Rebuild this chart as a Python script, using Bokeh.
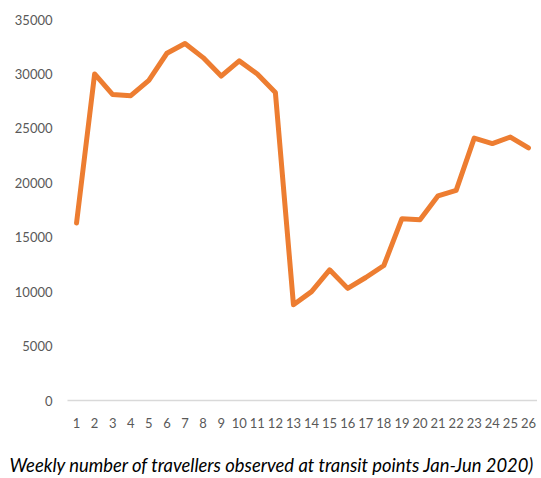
from bokeh.plotting import figure
from bokeh.models import FixedTicker, Range1d, Title
from bokeh.embed import file_html
from bokeh.resources import INLINE

weeks = list(range(1, 27))
travellers = [16300, 30000, 28100, 28000, 29400, 31900, 32800, 31500, 29800, 31200,
              30000, 28300, 8800, 10000, 12000, 10300, 11300, 12400, 16700, 16600,
              18800, 19300, 24100, 23600, 24200, 23200]
y_ticks = [0, 5000, 10000, 15000, 20000, 25000, 30000, 35000]
caption = "Weekly number of travellers observed at transit points Jan-Jun 2020)"

FONT = "Lato"

p = figure(frame_width=470, frame_height=381, output_backend="svg", toolbar_location=None,
           x_range=Range1d(0.5, 26.5), y_range=Range1d(0, 35000),
           min_border_left=67, min_border_right=0, min_border_top=19,
           min_border_bottom=2)
p.outline_line_color = None
p.xgrid.visible = False
p.ygrid.visible = False

p.line(weeks, travellers, line_color="#ED7D31", line_width=5, line_join="round", line_cap="round")

p.xaxis.ticker = FixedTicker(ticks=weeks)
p.xaxis.axis_line_color = "#d9d9d9"
p.xaxis.axis_line_width = 1.5
p.xaxis.major_tick_line_color = None
p.xaxis.minor_tick_line_color = None
p.xaxis.major_label_text_color = "#595959"
p.xaxis.major_label_text_font = FONT
p.xaxis.major_label_text_font_size = "13px"
p.xaxis.major_label_standoff = 11

p.yaxis.ticker = FixedTicker(ticks=y_ticks)
p.yaxis.axis_line_color = None
p.yaxis.major_tick_line_color = None
p.yaxis.minor_tick_line_color = None
p.yaxis.major_label_text_color = "#595959"
p.yaxis.major_label_text_font = FONT
p.yaxis.major_label_text_font_size = "13px"
p.yaxis.major_label_standoff = 9

t = Title(text=caption, align="left", text_font=FONT, text_font_style="italic",
          text_font_size="18.4px", text_color="#000000", offset=-58, standoff=43)
p.add_layout(t, "below")

open("out.html", "w").write(file_html(p, INLINE))
